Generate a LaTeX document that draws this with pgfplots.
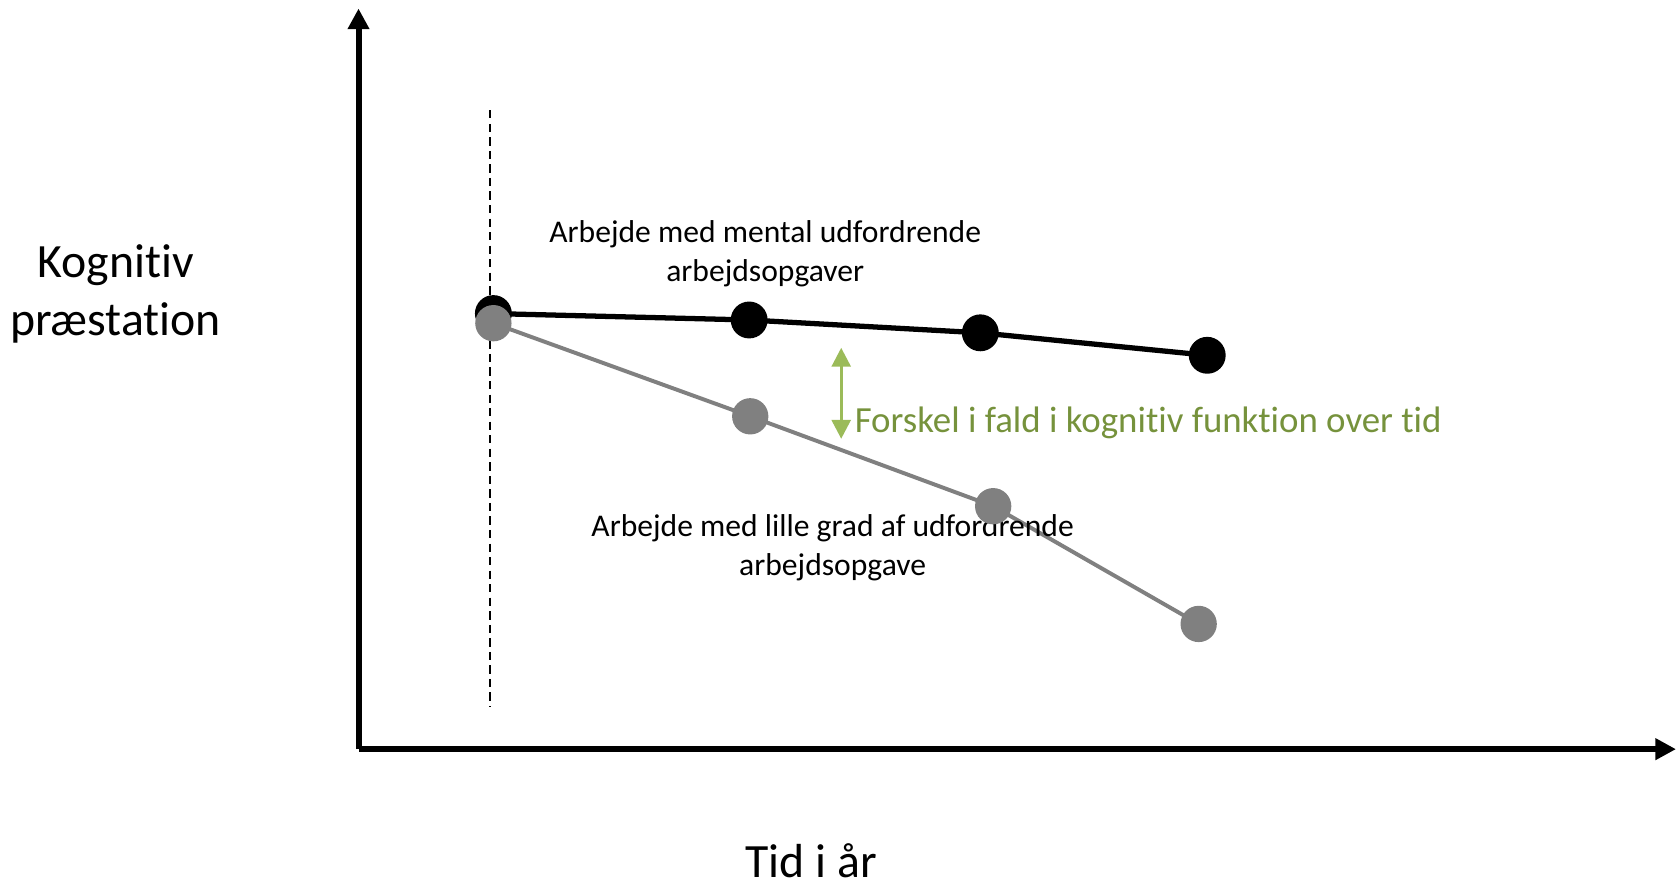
\documentclass[border=0pt]{standalone}
\usepackage{pgfplots}
\pgfplotsset{compat=1.18}
\usepackage{fontspec}
\setmainfont[Ligatures=NoCommon]{Carlito}
\usetikzlibrary{arrows.meta}
\definecolor{gtext}{RGB}{118,146,60}
\definecolor{garrow}{RGB}{155,187,89}
\definecolor{lgray}{RGB}{128,128,128}
\begin{document}
\begin{tikzpicture}
\begin{axis}[
  scale only axis,
  width=12.31cm, height=6.92cm,
  xmin=335, xmax=1566, ymin=126, ymax=818,
  axis lines=left,
  axis line style={line width=1.6pt, -{Triangle[length=5.5pt,width=5.5pt]}},
  xtick=\empty, ytick=\empty,
  clip=false,
]
\path (axis cs:0,0) rectangle (axis cs:1568,826);
% dashed baseline marker
\addplot[black, line width=0.45pt, dash pattern=on 2.2pt off 1.4pt] coordinates {(458,723) (458,166)};
% high challenge
\addplot[black, line width=1.4pt, mark=*, mark size=4.2pt, mark options={solid,fill=black}] coordinates {
(461,533) (700,527) (916,515) (1128,494)};
% low challenge
\addplot[lgray, line width=1.05pt, mark=*, mark size=4.3pt, mark options={solid,fill=lgray,draw=lgray}] coordinates {
(461,524) (701,437) (928,353) (1120,243)};
% green arrow
\draw[garrow, line width=0.8pt, {Triangle[length=5pt,width=5pt]}-{Triangle[length=5pt,width=5pt]}] (axis cs:786,501) -- (axis cs:786,416);
\node[anchor=base west, text=gtext, font=\fontsize{9.8pt}{11.8pt}\selectfont, inner sep=0pt] at (axis cs:798,421.5) {Forskel i fald i kognitiv funktion over tid};
\node[align=center, font=\fontsize{8.4pt}{10.24pt}\selectfont, inner sep=0pt] at (axis cs:715,589) {Arbejde med mental udfordrende\\arbejdsopgaver};
\node[align=center, font=\fontsize{8.4pt}{10.24pt}\selectfont, inner sep=0pt] at (axis cs:778,314) {Arbejde med lille grad af udfordrende\\arbejdsopgave};
\node[align=center, font=\fontsize{12.7pt}{15.4pt}\selectfont, inner sep=0pt] at (axis cs:108,551) {Kognitiv\\præstation};
\node[align=center, font=\fontsize{12.7pt}{15.4pt}\selectfont, inner sep=0pt] at (axis cs:758,22) {Tid i år};
\end{axis}
\end{tikzpicture}
\end{document}
